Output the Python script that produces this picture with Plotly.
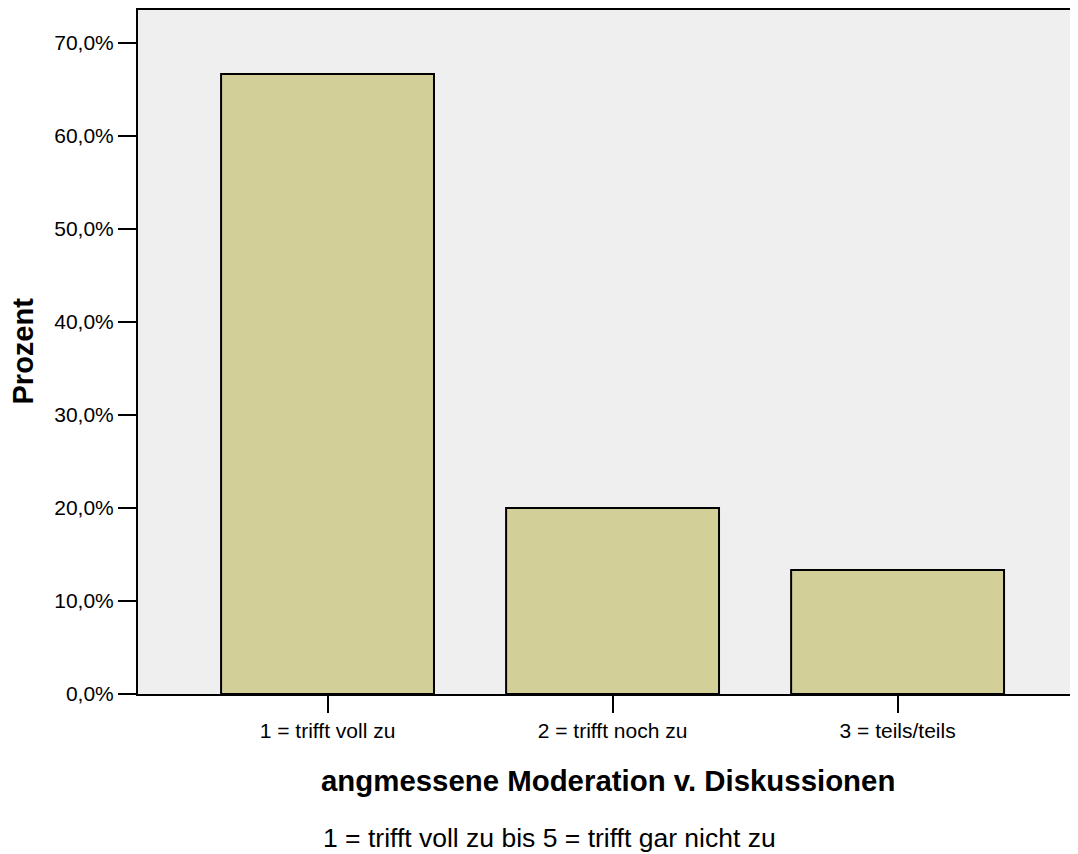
import plotly.graph_objects as go

categories = ["1 = trifft voll zu", "2 = trifft noch zu", "3 = teils/teils"]
percent = [66.67, 20.0, 13.33]
y_ticks = [0, 10, 20, 30, 40, 50, 60, 70]
y_tick_text = [f"{v},0%" for v in y_ticks]

OFF = 8  # page body margin
W, H = 1078 - OFF, 854 - OFF
L, R, T, B = 138 - OFF, 0, 10 - OFF, 854 - 694

fig = go.Figure()
fig.add_trace(go.Bar(
    x=list(range(len(categories))), y=percent,
    width=0.747,
    marker=dict(color="#d3cf99", line=dict(color="black", width=2)),
))

font = "Liberation Sans, Arial, sans-serif"
fig.update_layout(
    width=W, height=H,
    margin=dict(l=L, r=R, t=T, b=B),
    paper_bgcolor="white", plot_bgcolor="#efefef",
    showlegend=False,
    font=dict(family=font, size=21, color="black"),
    xaxis=dict(
        range=[-0.665, 2.633],
        tickmode="array", tickvals=list(range(len(categories))), ticktext=categories,
        ticks="outside", ticklen=17, tickwidth=2, tickcolor="black",
        showline=True, linecolor="black", linewidth=2, mirror=True,
        showgrid=False, zeroline=False,
        tickfont=dict(size=21),
    ),
    yaxis=dict(
        range=[0, 73.55],
        tickmode="array", tickvals=y_ticks, ticktext=y_tick_text,
        ticks="outside", ticklen=18, tickwidth=2, tickcolor="black",
        showline=True, linecolor="black", linewidth=2,
        showgrid=False, zeroline=False,
        tickfont=dict(size=21),
    ),
)

pw = W - L - R
ph = H - T - B

def px_x(x):
    return (x - OFF - L) / pw

def px_y(y):
    return 1 - (y - OFF - T) / ph

fig.add_annotation(
    x=px_x(608), xref="paper", xanchor="center",
    y=px_y(780), yref="paper", yanchor="middle",
    text="<b>angmessene Moderation v. Diskussionen</b>",
    showarrow=False, font=dict(size=29.4),
)
fig.add_annotation(
    x=px_x(22.5), xref="paper", xanchor="center",
    y=px_y(351), yref="paper", yanchor="middle",
    text="<b>Prozent</b>", textangle=-90, borderpad=0,
    showarrow=False, font=dict(size=29),
)
fig.add_annotation(
    x=px_x(321), xref="paper", xanchor="left",
    y=px_y(838), yref="paper", yanchor="middle",
    text="1 = trifft voll zu bis 5 = trifft gar nicht zu",
    showarrow=False, font=dict(size=26.5),
)

fig.write_html("out.html")
